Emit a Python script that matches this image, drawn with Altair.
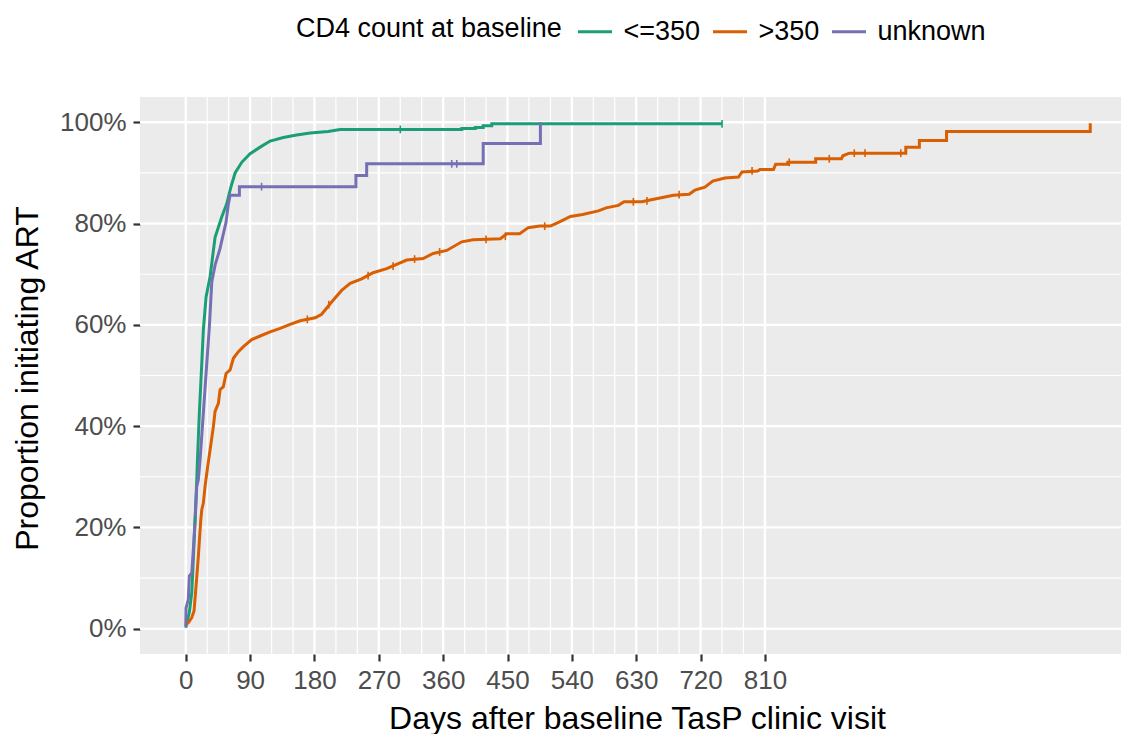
import altair as alt
import pandas as pd

# ---------------- data ----------------
groups = ["<=350", ">350", "unknown"]
colors = ["#1B9E77", "#D95F02", "#7570B3"]

green_days = [0, 1.4, 5, 8.4, 10.6, 13, 15.4, 16.2, 19, 22.4, 24.6, 28.4, 34, 41, 50.3, 57.3,
              62.9, 69, 78.3, 90, 104, 118, 136.5, 155, 174, 199, 216, 386, 386, 405, 405,
              416, 416, 428, 428, 750]
green_prop = [0.002, 0.012, 0.032, 0.071, 0.137, 0.215, 0.294, 0.327, 0.426, 0.524, 0.590,
              0.655, 0.695, 0.773, 0.813, 0.839, 0.871, 0.900, 0.921, 0.938, 0.951, 0.963,
              0.970, 0.975, 0.979, 0.982, 0.986, 0.986, 0.988, 0.988, 0.990, 0.990, 0.993,
              0.993, 0.997, 0.997]

orange_days = [0, 3.6, 8.4, 11.6, 14.4, 17.6, 21, 22.4, 24.6, 27, 29.4, 31.6, 34, 38.6, 41,
               45.6, 48, 52.6, 56.4, 62, 66.6, 73.6, 80.6, 92.3, 104, 118, 132, 146, 160,
               181, 190, 204, 218, 230, 246, 262, 281, 309, 332, 346, 365, 386, 402, 440,
               449, 467, 479, 495, 510, 522, 538, 555, 577, 588, 605, 613, 638, 651, 665,
               682, 704, 712, 726, 737, 754, 773, 778, 800, 803, 822, 825, 842, 842, 881,
               881, 917, 919, 928, 1007, 1007, 1026, 1026, 1064, 1064, 1265, 1265]
orange_prop = [0.008, 0.012, 0.022, 0.035, 0.084, 0.143, 0.215, 0.235, 0.248, 0.281, 0.307,
               0.330, 0.353, 0.399, 0.429, 0.445, 0.472, 0.478, 0.504, 0.511, 0.534, 0.547,
               0.557, 0.571, 0.578, 0.586, 0.593, 0.601, 0.608, 0.614, 0.621, 0.645, 0.668,
               0.682, 0.691, 0.703, 0.711, 0.728, 0.731, 0.741, 0.747, 0.764, 0.768, 0.770,
               0.780, 0.780, 0.792, 0.795, 0.795, 0.803, 0.814, 0.818, 0.825, 0.831, 0.836,
               0.843, 0.843, 0.847, 0.851, 0.856, 0.858, 0.866, 0.872, 0.884, 0.890, 0.892,
               0.902, 0.904, 0.907, 0.907, 0.917, 0.917, 0.921, 0.921, 0.928, 0.928, 0.934,
               0.939, 0.939, 0.951, 0.951, 0.964, 0.964, 0.982, 0.982, 0.998]

purple_days = [0, 0.4, 3.6, 5, 8.4, 10.6, 13, 15.4, 17.6, 20, 24.6, 29.4, 33, 36.4, 41, 48,
               52.6, 56.4, 59.6, 62, 75, 75, 238, 238, 253, 253, 416, 416, 496, 496]
purple_prop = [0.005, 0.041, 0.058, 0.104, 0.110, 0.156, 0.212, 0.281, 0.294, 0.333, 0.426,
               0.524, 0.596, 0.685, 0.718, 0.751, 0.780, 0.803, 0.839, 0.856, 0.856, 0.873,
               0.873, 0.895, 0.895, 0.918, 0.918, 0.958, 0.958, 1.000]

# censoring marks ("+")
green_cens_days = [13, 300, 750]
green_cens_prop = [0.215, 0.986, 0.997]
orange_cens_days = [170, 200, 255, 290, 320, 355, 420, 447, 502, 626, 645, 690, 792, 844,
                    900, 935, 950, 1000]
orange_cens_prop = [0.611, 0.640, 0.697, 0.716, 0.730, 0.744, 0.769, 0.775, 0.795, 0.843,
                    0.845, 0.857, 0.904, 0.921, 0.928, 0.939, 0.939, 0.939]
purple_cens_days = [106, 372, 379]
purple_cens_prop = [0.873, 0.918, 0.918]

# axis breaks
major_x = [0, 90, 180, 270, 360, 450, 540, 630, 720, 810]
minor_x = [30, 60, 120, 150, 210, 240, 300, 330, 390, 420, 480, 510, 570, 600, 660, 690,
           750, 780]
major_y = [0, 0.2, 0.4, 0.6, 0.8, 1.0]
minor_y = [0.1, 0.3, 0.5, 0.7, 0.9]

# ---------------- tables ----------------
rows = []
for g, ds, ps in ((groups[0], green_days, green_prop),
                  (groups[1], orange_days, orange_prop),
                  (groups[2], purple_days, purple_prop)):
    for i, (d, p) in enumerate(zip(ds, ps)):
        rows.append({"day": d, "prop": p, "grp": g, "idx": i})
lines_df = pd.DataFrame(rows)

crow = []
for g, ds, ps in ((groups[0], green_cens_days, green_cens_prop),
                  (groups[1], orange_cens_days, orange_cens_prop),
                  (groups[2], purple_cens_days, purple_cens_prop)):
    for d, p in zip(ds, ps):
        crow.append({"day": d, "prop": p, "grp": g})
cens_df = pd.DataFrame(crow)

FONT = "Liberation Sans"
x_scale = alt.Scale(domain=[-64, 1308], nice=False, zero=False)
y_scale = alt.Scale(domain=[-0.05, 1.05], nice=False, zero=False)
color_scale = alt.Scale(domain=groups, range=colors)

x_axis = alt.Axis(values=major_x, title="Days after baseline TasP clinic visit", grid=False,
                  domain=False, labelFontSize=26, labelColor="#4D4D4D", labelFont=FONT,
                  labelPadding=6, tickSize=7, tickWidth=2.2, tickColor="#333333",
                  titleFont=FONT, titleFontSize=32, titleFontWeight="normal", titleColor="black",
                  titleX=497, titleY=74, titleBaseline="alphabetic", titleAlign="center")
y_axis = alt.Axis(values=major_y, format=".0%", title="Proportion initiating ART", grid=False,
                  domain=False, labelFontSize=26, labelColor="#4D4D4D", labelFont=FONT,
                  labelPadding=7, tickSize=7, tickWidth=2.2, tickColor="#333333",
                  titleFont=FONT, titleFontSize=32, titleFontWeight="normal", titleColor="black",
                  titleAngle=270, titleX=-103, titleY=281, titleBaseline="alphabetic",
                  titleAlign="center")


def vrules(vals, w):
    return alt.Chart(pd.DataFrame({"day": vals})).mark_rule(color="white", strokeWidth=w).encode(
        x=alt.X("day:Q", scale=x_scale, axis=x_axis))


def hrules(vals, w):
    return alt.Chart(pd.DataFrame({"prop": vals})).mark_rule(color="white", strokeWidth=w).encode(
        y=alt.Y("prop:Q", scale=y_scale, axis=y_axis))


lines = alt.Chart(lines_df).mark_line(strokeWidth=3, interpolate="linear").encode(
    x=alt.X("day:Q", scale=x_scale, axis=x_axis),
    y=alt.Y("prop:Q", scale=y_scale, axis=y_axis),
    color=alt.Color("grp:N", scale=color_scale, legend=alt.Legend(
        orient="none", legendX=156, legendY=-84, direction="horizontal",
        title="CD4 count at baseline", titleOrient="left", titleFont=FONT, titleFontSize=27,
        titleFontWeight="normal", titleColor="black", titleLimit=600, titlePadding=11,
        titleAnchor="middle", titleBaseline="middle",
        labelFont=FONT, labelFontSize=27, labelColor="black", labelOffset=10,
        symbolType="stroke", symbolSize=1156, symbolStrokeWidth=3, symbolOffset=3.5,
        columnPadding=6)),
    order=alt.Order("idx:Q"),
)

cens = alt.Chart(cens_df).mark_point(shape="M0,-1V1", filled=False, size=60, strokeWidth=1.6,
                                     opacity=1).encode(
    x=alt.X("day:Q", scale=x_scale, axis=x_axis),
    y=alt.Y("prop:Q", scale=y_scale, axis=y_axis),
    stroke=alt.Stroke("grp:N", scale=color_scale, legend=None),
)

chart = alt.layer(
    vrules(minor_x, 1.2), hrules(minor_y, 1.2),
    vrules(major_x, 2.4), hrules(major_y, 2.4),
    lines, cens,
).properties(
    width=981, height=557,
    autosize=alt.AutoSizeParams(type="none"),
    padding={"left": 132, "top": 89, "right": 0, "bottom": 80},
).configure_view(
    fill="#EBEBEB", strokeWidth=0
)

chart.save("out.html", embed_options={"renderer": "svg", "actions": False})
